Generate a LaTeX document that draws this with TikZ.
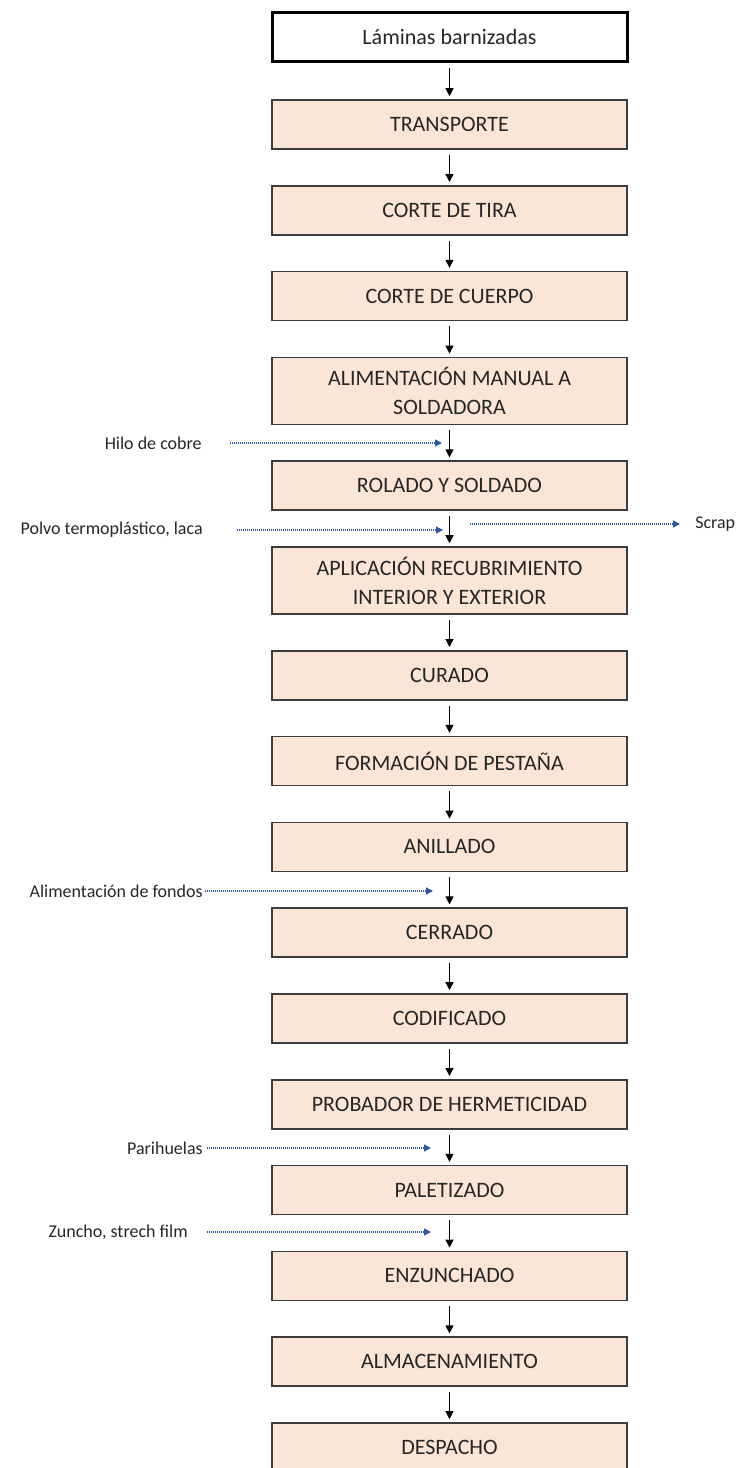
\documentclass[tikz,border=0pt]{standalone}
\usepackage{fontspec}
\setmainfont{Carlito}
\usetikzlibrary{positioning, arrows.meta}

\definecolor{peach}{RGB}{251,229,214}
\definecolor{feedblue}{RGB}{47,85,165}
\definecolor{edgegray}{RGB}{60,60,60}

\begin{document}
\begin{tikzpicture}[
                x = 1pt, y = 1pt,
                > = {Triangle[length = 8pt, width = 8pt]}, % arrow head style
                node distance = 35.2pt, % distance between boxes
                semithick % line style
            ]

            \tikzstyle{every node}=[font = \fontsize{22}{29}\selectfont,
            text = black!85]
            \tikzstyle{process}=[draw = edgegray, line width = 1.6pt, fill =
            peach, rectangle, minimum width = 355pt, minimum height = 49pt,
            align = center, inner sep = 2pt]
            \tikzstyle{tall}=[minimum height = 67pt]
            \tikzstyle{input}=[process, draw = black, line width = 3pt, fill =
            white]
            \tikzstyle{side}=[font = \fontsize{18}{21}\selectfont, inner sep
            = 0pt]
            \tikzstyle{feed}=[feedblue, line width = 1.3pt, dash pattern = on
            1pt off 1pt, -{Triangle[length = 7pt, width = 7pt]}]
            \tikzstyle{flow}=[->, line width = 1.2pt, shorten <= 5pt, shorten
            >= 3pt]

            \useasboundingbox (0,0) rectangle (738,-1468);

            % main line
            \node (lam) [input] at (449.5,-37) {Láminas barnizadas};
            \node (trans) [process, below = 36.2pt of lam] {TRANSPORTE};
            \node (tira) [process, below = of trans] {CORTE DE TIRA}; \node
            (cuerpo) [process, below = of tira] {CORTE DE CUERPO}; \node (alim)
            [process, tall, below = of cuerpo] {ALIMENTACIÓN MANUAL A\\
            SOLDADORA}; \node (rolado) [process, below = of alim] {ROLADO Y
            SOLDADO}; \node (aplic) [process, tall, below = of rolado]
            {APLICACIÓN RECUBRIMIENTO\\ INTERIOR Y EXTERIOR}; \node (curado)
            [process, below = of aplic] {CURADO}; \node (pestana) [process,
            below = of curado] {FORMACIÓN DE PESTAÑA}; \node (anillado)
            [process, below = of pestana] {ANILLADO}; \node (cerrado) [process,
            below = of anillado] {CERRADO}; \node (codif) [process, below = of
            cerrado] {CODIFICADO}; \node (probador) [process, below = of codif]
            {PROBADOR DE HERMETICIDAD}; \node (palet) [process, below = of
            probador] {PALETIZADO}; \node (enzun) [process, below = of palet]
            {ENZUNCHADO}; \node (almac) [process, below = of enzun]
            {ALMACENAMIENTO}; \node (despacho) [process, below = of almac]
            {DESPACHO};

            \path[flow] (lam) edge (trans); \path[flow] (trans) edge (tira);
            \path[flow] (tira) edge (cuerpo); \path[flow] (cuerpo) edge (alim);
            \path[flow] (alim) edge (rolado); \path[flow] (rolado) edge (aplic);
            \path[flow] (aplic) edge (curado); \path[flow] (curado) edge
            (pestana); \path[flow] (pestana) edge (anillado); \path[flow]
            (anillado) edge (cerrado); \path[flow] (cerrado) edge (codif);
            \path[flow] (codif) edge (probador); \path[flow] (probador) edge
            (palet); \path[flow] (palet) edge (enzun); \path[flow] (enzun) edge
            (almac); \path[flow] (almac) edge (despacho);

            % inputs and outputs
            \node (hilo) [side, anchor = east] at (202,-443) {Hilo de cobre};
            \coordinate (hilo-in) at (442,-443);
            \node (polvo) [side, anchor = east] at (203,-530) {Polvo
            termoplástico, laca}; \coordinate (polvo-in) at (443,-530);
            \coordinate (scrap-out) at (470,-524);
            \node (scrap) [side, anchor = west] at (695,-524) {Scrap};
            \node (fondos) [side, anchor = east] at (203,-891) {Alimentación de
            fondos}; \coordinate (fondos-in) at (433,-891);
            \node (parih) [side, anchor = east] at (203,-1148) {Parihuelas};
            \coordinate (parih-in) at (431,-1148);
            \node (zuncho) [side, anchor = east] at (188,-1232) {Zuncho, strech
            film}; \coordinate (zuncho-in) at (431,-1232);

            \draw[feed, shorten <= 28pt] (hilo) -- (hilo-in);
            \draw[feed, shorten <= 34pt] (polvo) -- (polvo-in);
            \draw[feed, shorten >= 15pt] (scrap-out) -- (scrap);
            \draw[feed, shorten <= 2pt] (fondos) -- (fondos-in);
            \draw[feed, shorten <= 4pt] (parih) -- (parih-in);
            \draw[feed, shorten <= 19pt] (zuncho) -- (zuncho-in);

        \end{tikzpicture}
\end{document}
